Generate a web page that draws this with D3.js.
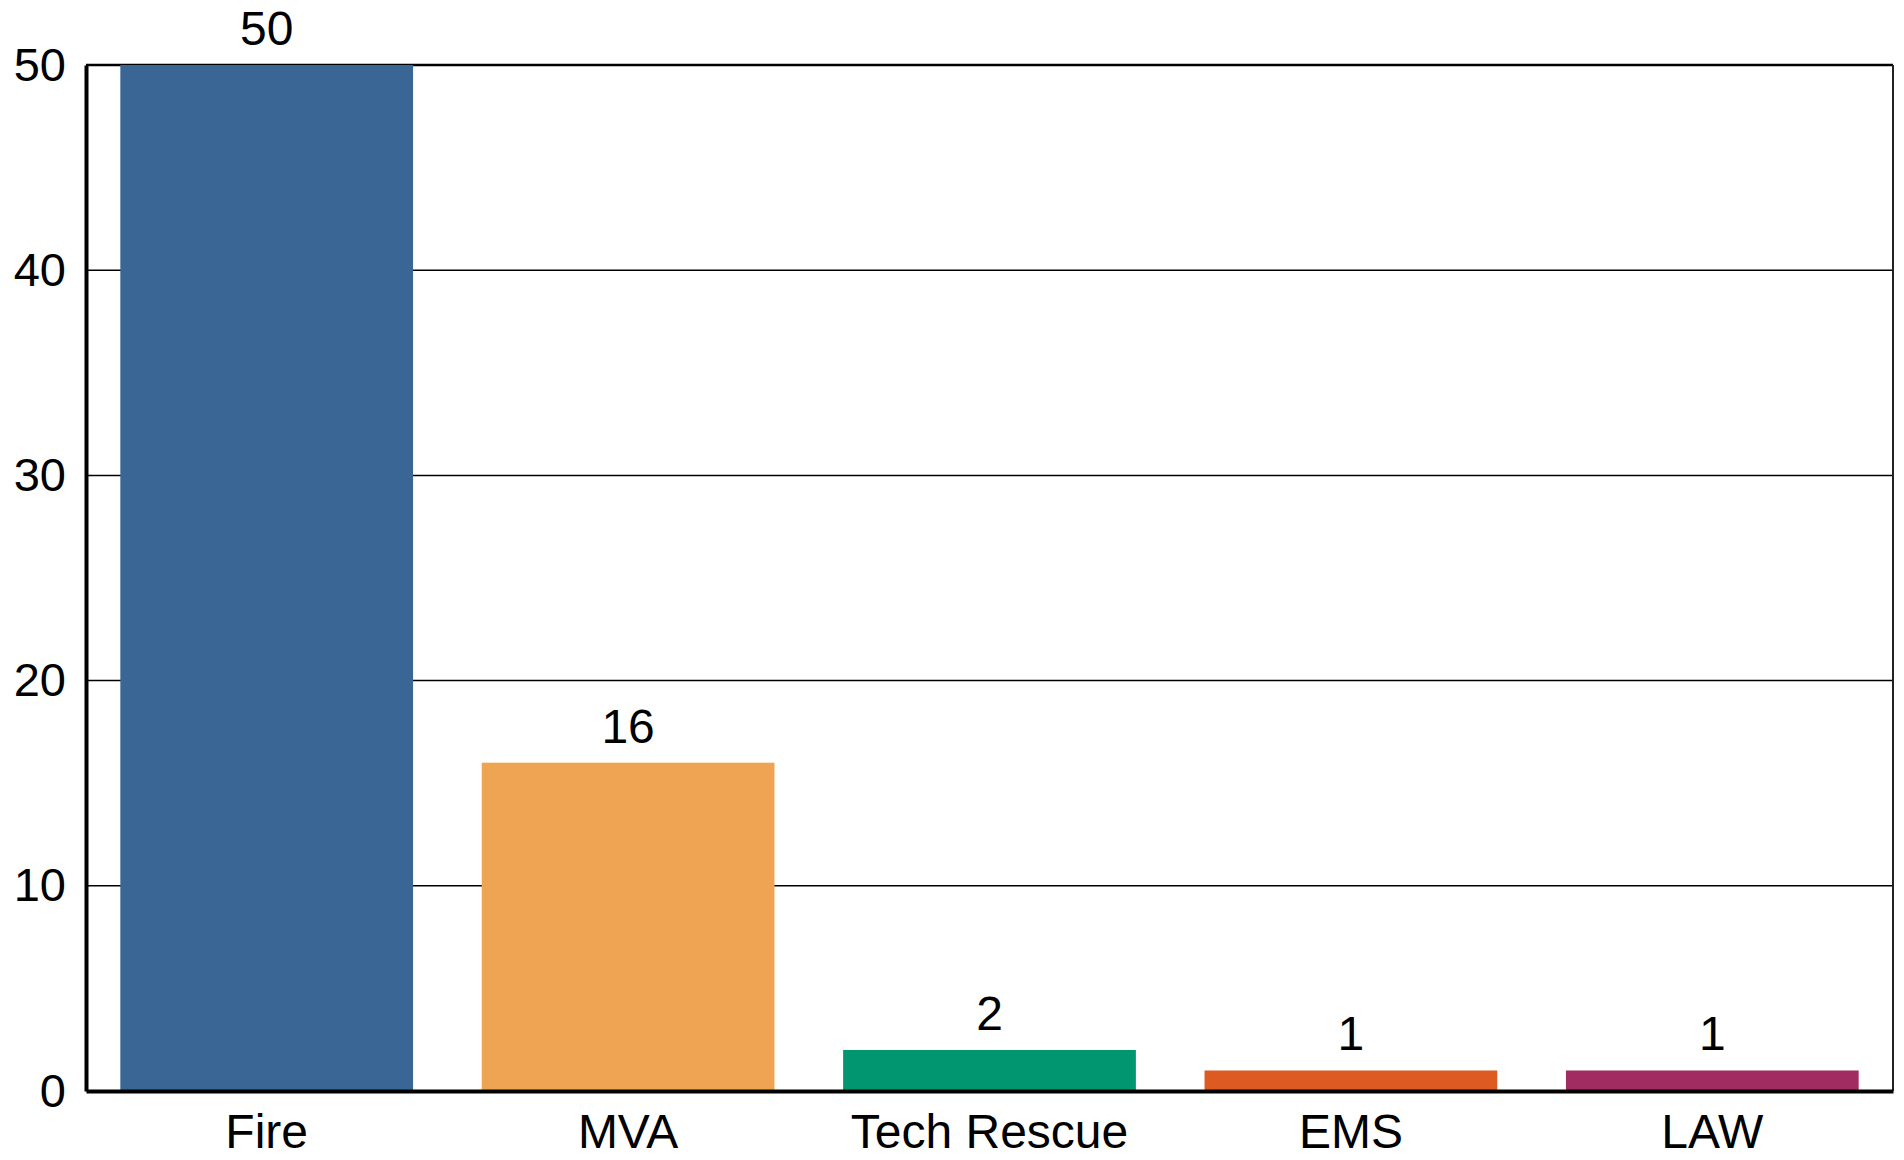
<!DOCTYPE html>
<html>
<head>
<meta charset="utf-8">
<script src="https://cdn.jsdelivr.net/npm/d3@7"></script>
<style>
  body { margin: 0; background: #fff; }
  text { font-family: "Liberation Sans", Arial, sans-serif; fill: #000; }
</style>
</head>
<body>
<div id="chart"></div>
<script>
let categories = ['Fire', 'MVA', 'Tech Rescue', 'EMS', 'LAW']
let values = [50, 16, 2, 1, 1]
let colors = ['#3a6696', '#efa453', '#019670', '#dd5a22', '#a12c61']
let yTicks = [0, 10, 20, 30, 40, 50]

let width = 1904
let height = 1160
let margin = { top: 65, right: 11, bottom: 69, left: 86 }
let innerW = width - margin.left - margin.right
let innerH = height - margin.top - margin.bottom

let svg = d3.select('#chart')
  .append('svg')
  .attr('width', width)
  .attr('height', height)

let g = svg.append('g')
  .attr('transform', `translate(${margin.left},${margin.top})`)

let x = d3.scaleBand()
  .domain(categories)
  .range([0, innerW])
  .paddingInner(0.19)
  .paddingOuter(0.095)

let y = d3.scaleLinear()
  .domain([0, 50])
  .range([innerH, 0])

// gridlines
g.selectAll('.grid')
  .data(yTicks.filter(d => d > 0))
  .enter()
  .append('line')
  .attr('x1', 0)
  .attr('x2', innerW)
  .attr('y1', d => y(d))
  .attr('y2', d => y(d))
  .attr('stroke', '#000')
  .attr('stroke-width', d => d === 50 ? 2.5 : 1.5)

// right border
g.append('line')
  .attr('x1', innerW).attr('x2', innerW)
  .attr('y1', y(50)).attr('y2', y(0))
  .attr('stroke', '#222')
  .attr('stroke-width', 2)

// bars
g.selectAll('.bar')
  .data(values)
  .enter()
  .append('rect')
  .attr('x', (d, i) => x(categories[i]))
  .attr('y', d => y(d))
  .attr('width', x.bandwidth())
  .attr('height', d => y(0) - y(d))
  .style('fill', (d, i) => colors[i])

// value labels
g.selectAll('.val')
  .data(values)
  .enter()
  .append('text')
  .attr('x', (d, i) => x(categories[i]) + x.bandwidth() / 2)
  .attr('y', d => y(d) - 20)
  .attr('text-anchor', 'middle')
  .style('font-size', '48px')
  .text(d => d)

// y axis
let yAxis = g.append('g')
  .call(d3.axisLeft(y).tickValues(yTicks).tickSize(0).tickPadding(20))
yAxis.select('.domain').attr('stroke', '#000').attr('stroke-width', 4)
yAxis.selectAll('text')
  .style('font-size', '47px')

// x axis
let xAxis = g.append('g')
  .attr('transform', `translate(0,${innerH})`)
  .call(d3.axisBottom(x).tickSize(0).tickPadding(23))
xAxis.select('.domain').attr('stroke', '#000').attr('stroke-width', 4)
xAxis.selectAll('text')
  .style('font-size', '48px')

svg.selectAll('g').attr('font-family', null).attr('font-size', null)
</script>
</body>
</html>
